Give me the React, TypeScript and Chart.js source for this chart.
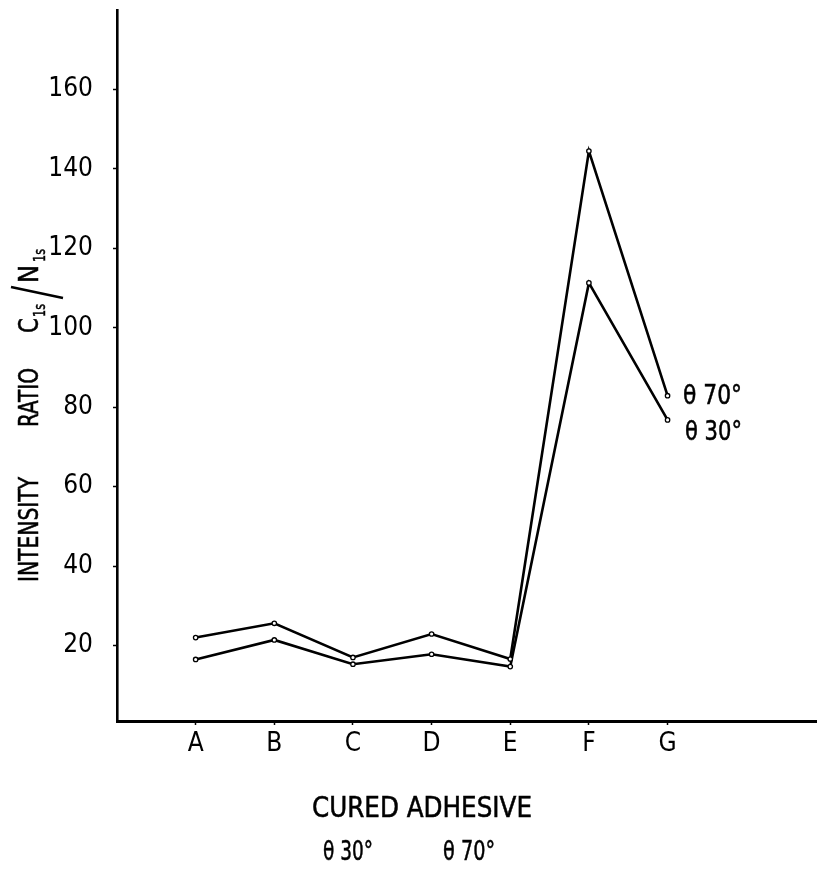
import React, { useEffect, useRef } from 'react';
import { Chart, registerables } from 'chart.js';

Chart.register(...registerables);

// ---- data ----
const categories = ['A', 'B', 'C', 'D', 'E', 'F', 'G'];
const theta70 = [22.0, 25.6, 17.0, 22.9, 16.6, 144.5, 82.9];
const theta30 = [16.5, 21.4, 15.3, 17.8, 14.7, 111.3, 76.8];
const yTickValues = [20, 40, 60, 80, 100, 120, 140, 160];
const seriesLabels = ['\u03B8 70\u00B0', '\u03B8 30\u00B0'];
const xTitle = 'CURED ADHESIVE';
const xSubTitle = ['\u03B8 30\u00B0', '\u03B8 70\u00B0'];
const yTitleWords = ['INTENSITY', 'RATIO'];

const FONT = "'Liberation Sans Narrow', 'DejaVu Sans Condensed', 'Liberation Sans', sans-serif";

function fitText(ctx: CanvasRenderingContext2D, text: string, x: number, y: number, width: number) {
  const w = ctx.measureText(text).width;
  const s = width / w;
  ctx.save();
  ctx.translate(x, y);
  ctx.scale(s, 1);
  ctx.fillText(text, 0, 0);
  ctx.lineWidth = 0.5;
  ctx.strokeText(text, 0, 0);
  ctx.restore();
}

const annotPlugin = {
  id: 'annot',
  afterDraw(chart: any) {
    const ctx: CanvasRenderingContext2D = chart.ctx;
    ctx.save();
    ctx.fillStyle = '#000';
    ctx.strokeStyle = '#000';
    ctx.textAlign = 'left';
    ctx.textBaseline = 'alphabetic';

    // Y title (rotated)
    ctx.save();
    ctx.translate(38, 582);
    ctx.rotate(-Math.PI / 2);
    ctx.font = `27px ${FONT}`;
    fitText(ctx, yTitleWords[0], 0, 0, 105);
    fitText(ctx, yTitleWords[1], 155, 0, 59);
    ctx.font = `27px ${FONT}`;
    fitText(ctx, 'C', 249, 0, 15);
    ctx.font = `16px ${FONT}`;
    fitText(ctx, '1s', 265, 7, 13);
    ctx.font = `27px ${FONT}`;
    fitText(ctx, 'N', 299, 0, 18);
    ctx.font = `16px ${FONT}`;
    fitText(ctx, '1s', 320, 7, 13);
    ctx.restore();
    // slash
    ctx.lineWidth = 2.5;
    ctx.beginPath();
    ctx.moveTo(63, 298);
    ctx.lineTo(11, 287);
    ctx.stroke();

    // X title
    ctx.font = `28px ${FONT}`;
    ctx.textBaseline = 'middle';
    fitText(ctx, xTitle, 312, 810, 220);
    ctx.font = `27px ${FONT}`;
    fitText(ctx, xSubTitle[0], 323, 853, 50);
    fitText(ctx, xSubTitle[1], 443, 853, 52);

    // series labels at G
    ctx.font = `27px ${FONT}`;
    fitText(ctx, seriesLabels[0], 683, 397, 59);
    fitText(ctx, seriesLabels[1], 685, 433, 57);
    ctx.restore();
  },
};

export default function App() {
  const ref = useRef<HTMLCanvasElement | null>(null);
  useEffect(() => {
    if (!ref.current) return;
    const mk = (vals: number[]) => vals.map((v, i) => ({ x: i + 1, y: v }));
    const ds = (label: string, vals: number[]) => ({
      label,
      data: mk(vals),
      borderColor: '#000',
      backgroundColor: '#fff',
      borderWidth: 2.6,
      pointRadius: 2.2,
      pointBorderWidth: 1.3,
      pointBackgroundColor: '#fff',
      pointBorderColor: '#000',
      tension: 0,
      fill: false,
    });
    const chart = new Chart(ref.current, {
      type: 'line',
      data: {
        datasets: [ds(seriesLabels[0], theta70), ds(seriesLabels[1], theta30)],
      },
      options: {
        animation: false,
        responsive: false,
        layout: { autoPadding: false, padding: { top: 10, left: 0, right: 0, bottom: 0 } },
        plugins: { legend: { display: false }, tooltip: { enabled: false } },
        scales: {
          x: {
            type: 'linear',
            min: 0,
            max: 8.9,
            afterFit: (s: any) => {
              s.height = 158;
              s.paddingLeft = 0;
              s.paddingRight = 0;
              s.paddingTop = 0;
              s.paddingBottom = 0;
            },
            afterBuildTicks: (s: any) => { s.ticks = categories.map((_, i) => ({ value: i + 1 })); },
            ticks: {
              callback: (v: any) => categories[Math.round(Number(v)) - 1] ?? '',
              color: '#000',
              font: { family: FONT, size: 26 },
              padding: 4,
              maxRotation: 0,
              autoSkip: false,
            },
            grid: { drawOnChartArea: false, drawTicks: true, tickLength: 4, tickColor: '#000', tickWidth: 1.5 },
            border: { display: true, color: '#000', width: 3 },
          },
          y: {
            type: 'linear',
            min: 1,
            max: 180,
            afterFit: (s: any) => {
              s.width = 117;
              s.paddingLeft = 0;
              s.paddingRight = 0;
              s.paddingTop = 0;
              s.paddingBottom = 0;
            },
            afterBuildTicks: (s: any) => { s.ticks = yTickValues.map((v) => ({ value: v })); },
            ticks: {
              color: '#000',
              font: { family: FONT, size: 26 },
              padding: 20,
              autoSkip: false,
            },
            grid: { drawOnChartArea: false, drawTicks: true, tickLength: 4, tickColor: '#000', tickWidth: 1.5 },
            border: { display: true, color: '#000', width: 2.6 },
          },
        },
      },
      plugins: [annotPlugin],
    });
    return () => chart.destroy();
  }, []);
  return (
    <div style={{ position: 'absolute', left: 0, top: 0, width: 817, height: 879, background: '#fff' }}>
      <canvas ref={ref} width={817} height={879} style={{ display: 'block' }} />
    </div>
  );
}
